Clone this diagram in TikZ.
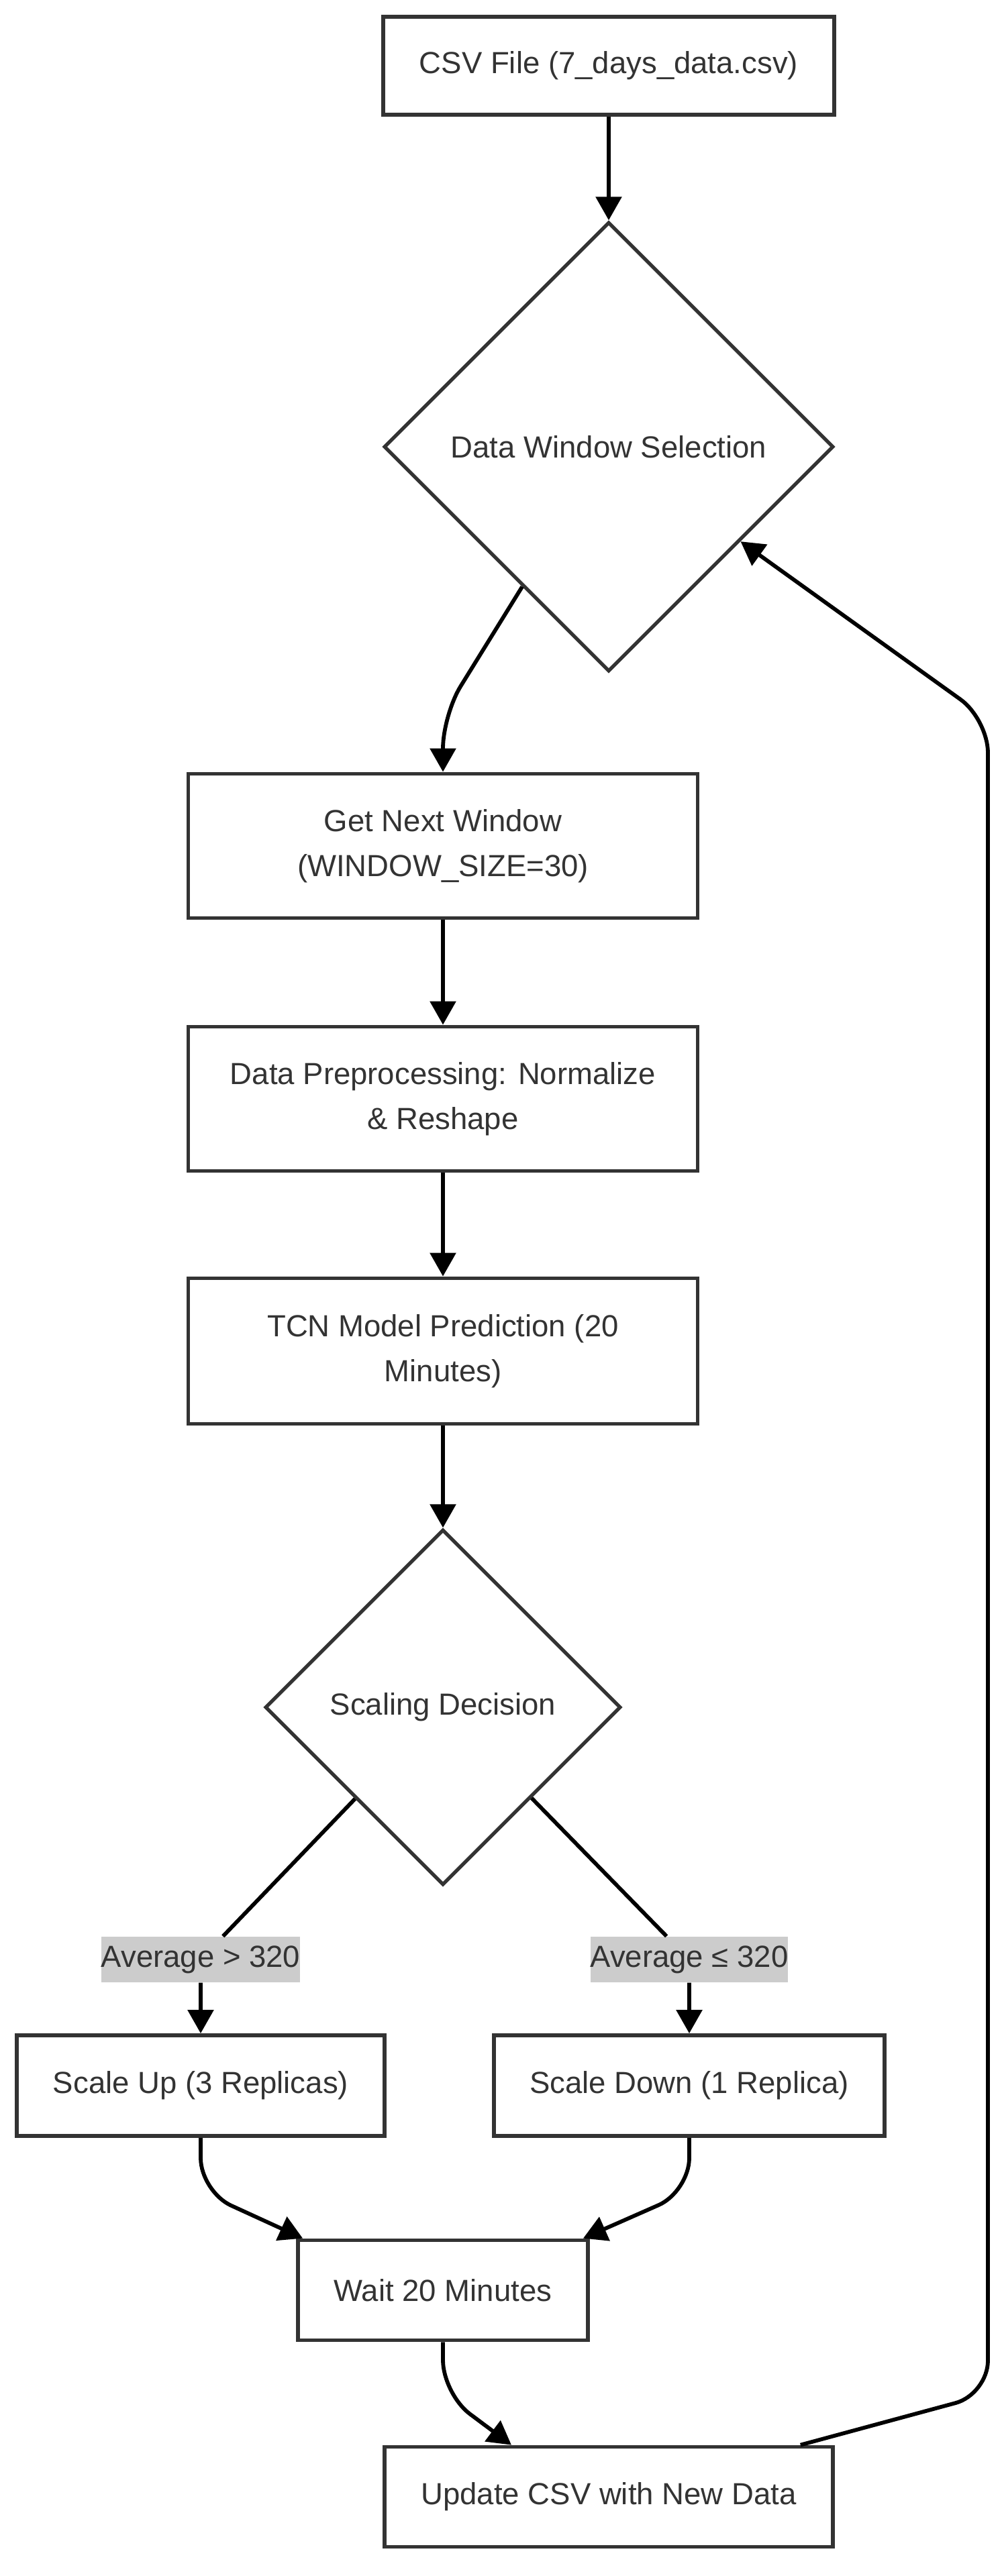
\documentclass[tikz,border=0pt]{standalone}
\usepackage{fontspec}
\setmainfont{Liberation Sans}
\usepackage{xcolor}
\usepackage{tikz}
\usetikzlibrary{calc, arrows.meta, shapes.geometric, positioning}
\definecolor{boxgray}{HTML}{333333}
\definecolor{labelgray}{HTML}{CCCCCC}
\tikzset{
    shapenode/.style = {draw=boxgray, rectangle, fill=white, line width=1.65pt, inner sep=0em,
      node distance=0em, text=boxgray, font=\fontsize{12.95pt}{19pt}\selectfont},
    decisionnode/.style = {draw=boxgray, diamond, aspect=1, fill=white, line width=1.5pt, inner sep=0em,
      node distance=0em, text=boxgray, font=\fontsize{12.95pt}{19pt}\selectfont},
    labelnode/.style = {fill=labelgray, rectangle, inner xsep=0em, inner ysep=0em, minimum height=0.68cm,
      node distance=0em, text=boxgray, font=\fontsize{12.95pt}{19pt}\selectfont},
    connect/.style = {black, line width=1.65pt, -{Triangle[length=0.35cm, width=0.38cm]}},
    every text node part/.style={align=center}
}

\begin{document}
\begin{tikzpicture}
    \useasboundingbox (0,0) rectangle (14.93,-38.40);
    \node [shapenode, name=csv, minimum width=6.72cm, minimum height=1.46cm] at (9.07,-0.98) {CSV File (7\_days\_data.csv)};
    \node [decisionnode, name=window, below of=csv, yshift=-5.68cm, minimum width=6.70cm, minimum height=6.70cm] {Data Window Selection};
    \node [shapenode, name=next, below of=window, xshift=-2.47cm, yshift=-5.95cm, minimum width=7.59cm, minimum height=2.15cm] {Get Next Window\\(WINDOW\_SIZE=30)};
    \node [shapenode, name=prep, below of=next, yshift=-3.77cm, minimum width=7.59cm, minimum height=2.15cm] {Data Preprocessing: Normalize\\\& Reshape};
    \node [shapenode, name=tcn, below of=prep, yshift=-3.76cm, minimum width=7.59cm, minimum height=2.17cm] {TCN Model Prediction (20\\Minutes)};
    \node [decisionnode, name=decide, below of=tcn, yshift=-5.31cm, minimum width=5.30cm, minimum height=5.30cm] {Scaling Decision};

    \node [labelnode, name=above320, below of=decide, xshift=-3.61cm, yshift=-3.76cm] {Average > 320};
    \node [labelnode, name=below320, below of=decide, xshift=3.67cm, yshift=-3.76cm] {Average ≤ 320};
    \node [shapenode, name=up, below of=above320, yshift=-1.88cm, minimum width=5.48cm, minimum height=1.50cm] {Scale Up (3 Replicas)};
    \node [shapenode, name=down, below of=below320, yshift=-1.88cm, minimum width=5.82cm, minimum height=1.50cm] {Scale Down (1 Replica)};
    \node [shapenode, name=wait, below of=decide, yshift=-8.69cm, minimum width=4.32cm, minimum height=1.49cm] {Wait 20 Minutes};
    \node [shapenode, name=update, below of=csv, yshift=-36.24cm, minimum width=6.68cm, minimum height=1.49cm] {Update CSV with New Data};

    \draw (csv) edge[connect] (window);
    \draw[connect, rounded corners=0.5cm] (window) -- ($(next.north)+(0,0.85)$) -- (next);
    \draw (next) edge[connect] (prep);
    \draw (prep) edge[connect] (tcn);
    \draw (tcn) edge[connect] (decide);
    \draw[connect] (decide) -- (above320) -- (up);
    \draw[connect] (decide) -- (below320) -- (down);
    \draw[connect, rounded corners=0.5cm] (up.south) -- ($(up.south)+(0,-0.8)$) -- ($(wait.north west)+(0.1,0)$);
    \draw[connect, rounded corners=0.5cm] (down.south) -- ($(down.south)+(0,-0.8)$) -- ($(wait.north east)+(-0.1,0)$);
    \draw[connect, rounded corners=0.5cm] (wait.south) -- ($(wait.south)+(0,-0.77)$) -- ($(update.north)+(-1.45,0)$);

    \coordinate (loopbottom) at (14.72,-35.69);
    \coordinate (looptop) at (14.72,-10.72);
    \draw[connect, rounded corners=0.5cm] (update) -- (loopbottom) -- (looptop) -- (window);
\end{tikzpicture}
\end{document}
